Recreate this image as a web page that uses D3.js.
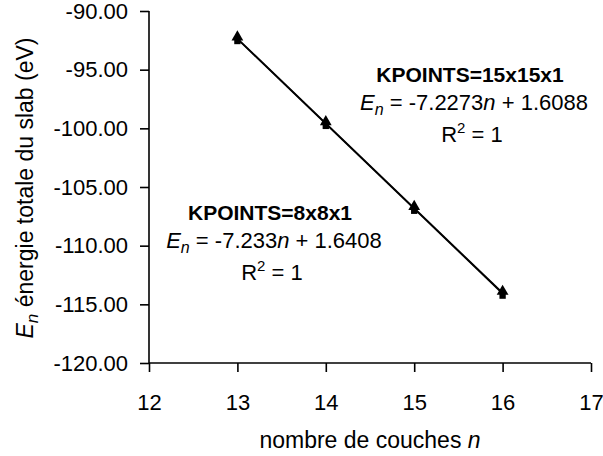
<!DOCTYPE html>
<html><head><meta charset="utf-8">
<script src="https://cdn.jsdelivr.net/npm/d3@7"></script>
<style>body{margin:0;background:#fff}svg{display:block;font-family:Arial,"Liberation Sans",sans-serif}</style>
</head><body><svg id="c" width="603" height="456"></svg>
<script>
const layers = [13, 14, 15, 16];
const energy8 = [-92.389, -99.622, -106.855, -114.088];
const energy15 = [-92.346, -99.573, -106.801, -114.028];
const fit8 = {slope: -7.233, intercept: 1.6408};
const fit15 = {slope: -7.2273, intercept: 1.6088};
const xTicks = [12, 13, 14, 15, 16, 17];
const yTicks = [-90, -95, -100, -105, -110, -115, -120];

const FONT = "Arial, 'Liberation Sans', sans-serif";
const svg = d3.select("#c");
const m = {l: 149, r: 591, t: 11, b: 363};
const x = d3.scaleLinear().domain([12, 17]).range([m.l, m.r]);
const y = d3.scaleLinear().domain([-120, -90]).range([m.b, m.t]);
const fmtY = d => d3.format(".2f")(d).replace("\u2212", "-");

// y axis
const ya = svg.append("g").attr("transform", `translate(${m.l},0)`)
  .call(d3.axisLeft(y).tickValues(yTicks).tickFormat(fmtY).tickSize(9).tickPadding(12));
ya.attr("font-family", FONT).attr("font-size", 22);
ya.select(".domain").attr("stroke", "#000").attr("stroke-width", 1.6).attr("d", `M0,${m.t}V${m.b}`);
ya.selectAll(".tick line").attr("stroke-width", 1.6);
ya.selectAll("text").attr("fill", "#000");

// x axis
const xa = svg.append("g").attr("transform", `translate(0,${m.b})`)
  .call(d3.axisBottom(x).tickValues(xTicks).tickFormat(d3.format("d")).tickSize(9).tickPadding(22));
xa.attr("font-family", FONT).attr("font-size", 22);
xa.select(".domain").attr("stroke", "#000").attr("stroke-width", 1.6).attr("d", `M${m.l},0H${m.r}`);
xa.selectAll(".tick line").attr("stroke-width", 1.6);
xa.selectAll("text").attr("fill", "#000");

// trend lines
[fit8, fit15].forEach(f => {
  svg.append("line")
    .attr("x1", x(layers[0])).attr("y1", y(f.slope * layers[0] + f.intercept))
    .attr("x2", x(layers[layers.length - 1])).attr("y2", y(f.slope * layers[layers.length - 1] + f.intercept))
    .attr("stroke", "#000").attr("stroke-width", 1.6);
});

// markers
const tri = d3.symbol().type(d3.symbolTriangle).size(60);
const sq = d3.symbol().type(d3.symbolSquare).size(40);
layers.forEach((n, i) => {
  svg.append("path").attr("d", sq()).attr("fill", "#000")
    .attr("transform", `translate(${x(n)},${y(energy8[i]) + 2})`);
  svg.append("path").attr("d", tri()).attr("fill", "#000")
    .attr("transform", `translate(${x(n)},${y(energy15[i]) - 1.5})`);
});

// annotations
function annot(cx, y0, title, slope, intercept) {
  const g = svg.append("g").attr("font-family", FONT).attr("fill", "#000");
  g.append("text").attr("x", cx).attr("y", y0).attr("text-anchor", "middle")
    .attr("font-size", 21).attr("font-weight", "bold").text(title);
  const t = g.append("text").attr("x", cx + 4).attr("y", y0 + 28).attr("text-anchor", "middle").attr("font-size", 22);
  t.append("tspan").attr("font-style", "italic").text("E");
  t.append("tspan").attr("font-style", "italic").attr("font-size", 16).attr("dy", 5).text("n");
  t.append("tspan").attr("dy", -5).text(` = ${slope}`);
  t.append("tspan").attr("font-style", "italic").text("n");
  t.append("tspan").text(` + ${intercept}`);
  const r = g.append("text").attr("x", cx + 2).attr("y", y0 + 60).attr("text-anchor", "middle").attr("font-size", 22);
  r.append("tspan").text("R");
  r.append("tspan").attr("font-size", 15).attr("dy", -9).text("2");
  r.append("tspan").attr("dy", 9).text(" = 1");
}
annot(470, 82, "KPOINTS=15x15x1", "-7.2273", "1.6088");
annot(270, 220, "KPOINTS=8x8x1", "-7.233", "1.6408");

// axis titles
const xt = svg.append("text").attr("x", 370).attr("y", 448).attr("text-anchor", "middle")
  .attr("font-family", FONT).attr("font-size", 23);
xt.append("tspan").text("nombre de couches ");
xt.append("tspan").attr("font-style", "italic").text("n");

const yt = svg.append("text").attr("transform", "translate(33,188) rotate(-90)").attr("text-anchor", "middle")
  .attr("font-family", FONT).attr("font-size", 23);
yt.append("tspan").attr("font-style", "italic").text("E");
yt.append("tspan").attr("font-style", "italic").attr("font-size", 17).attr("dy", 5).text("n");
yt.append("tspan").attr("dy", -5).text(" énergie totale du slab (eV)");
</script></body></html>
